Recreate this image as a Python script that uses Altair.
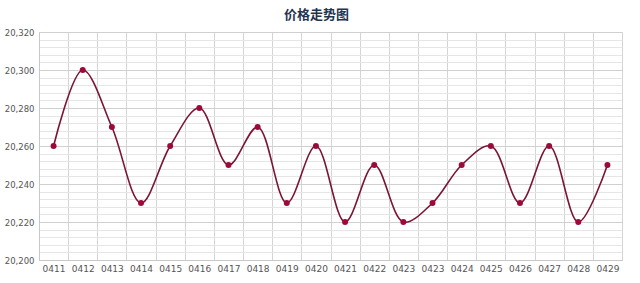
import altair as alt
import pandas as pd

labels = ["0411", "0412", "0413", "0414", "0415", "0416", "0417", "0418", "0419", "0420",
          "0421", "0422", "0423", "0423", "0424", "0425", "0426", "0427", "0428", "0429"]
prices = [20.26, 20.30, 20.27, 20.23, 20.26, 20.28, 20.25, 20.27, 20.23, 20.26,
          20.22, 20.25, 20.22, 20.23, 20.25, 20.26, 20.23, 20.26, 20.22, 20.25]

df = pd.DataFrame({"idx": list(range(len(labels))), "label": labels, "price": prices})

label_js = "[" + ",".join("'" + l + "'" for l in labels) + "]"
x_values = [i * 0.5 - 0.5 for i in range(2 * len(labels) + 1)]
y_values = [round(20.2 + 0.004 * i, 3) for i in range(31)]

x = alt.X(
    "idx:Q",
    scale=alt.Scale(domain=[-0.5, len(labels) - 0.5], nice=False, zero=False),
    axis=alt.Axis(
        title=None,
        values=x_values,
        labelExpr=f"(datum.value % 1 == 0) ? {label_js}[datum.value] : ''",
        ticks=False,
        grid=True,
        gridOpacity={"condition": {"test": "datum.value % 1 == 0", "value": 0}, "value": 1},
        gridColor="#d4d4d4",
        labelFontSize=9,
        labelColor="#555555",
        labelPadding=4,
        labelFont="DejaVu Sans",
        domainColor="#c8c8c8",
        labelFlush=False,
        labelOverlap=False,
    ),
)
y = alt.Y(
    "price:Q",
    scale=alt.Scale(domain=[20.2, 20.32], nice=False, zero=False),
    axis=alt.Axis(
        title=None,
        values=y_values,
        labelExpr="(abs(round(datum.value*1000)) % 20 == 0) ? replace(format(datum.value, '.3f'), '.', ',') : ''",
        ticks=False,
        grid=True,
        gridColor={"condition": {"test": "abs(round(datum.value*1000)) % 20 == 0", "value": "#d0d0d0"}, "value": "#e6e6e6"},
        labelFontSize=8.5,
        labelColor="#555555",
        labelPadding=5,
        labelFont="DejaVu Sans",
        domainColor="#c8c8c8",
        labelOverlap=False,
        labelFlush=False,
    ),
)

base = alt.Chart(df)
line = base.mark_line(interpolate="catmull-rom", color="#7a1535", strokeWidth=1.6).encode(x=x, y=y)
pts = base.mark_circle(color="#9b0a3a", size=36, opacity=1).encode(x=x, y=y)

chart = (
    alt.layer(line, pts)
    .properties(
        width=583,
        height=228,
        title=alt.TitleParams("价格走势图", fontSize=13, fontWeight="bold", color="#1f3550",
                              font="Noto Sans CJK SC", dx=-14, offset=6),
        autosize=alt.AutoSizeParams(type="none"),
        padding={"left": 39, "top": 32, "right": 18, "bottom": 23},
    )
    .configure_view(stroke="#d0d0d0", strokeWidth=1)
    .configure(background="white")
)

chart.save("out.html", embed_options={"renderer": "svg", "actions": False})
